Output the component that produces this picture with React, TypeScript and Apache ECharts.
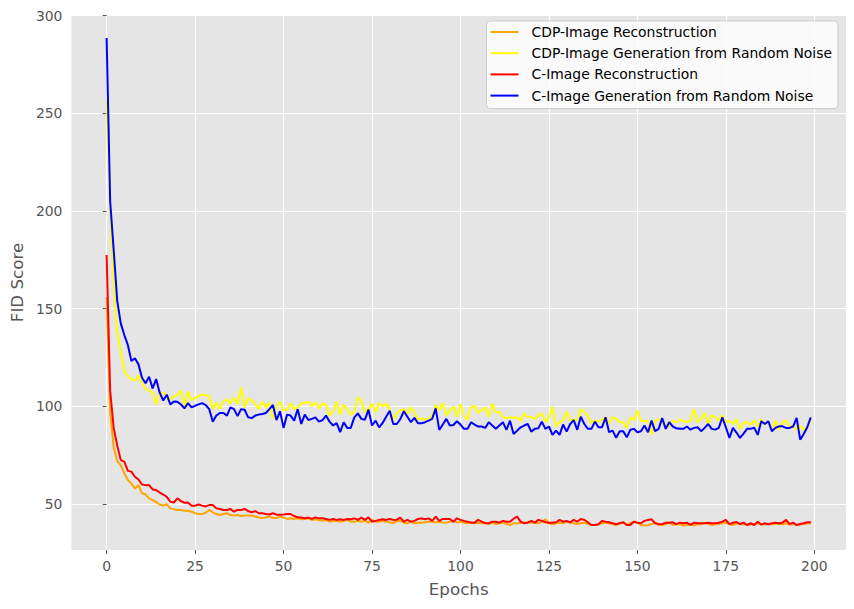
import React, { useEffect, useRef } from "react";
import * as echarts from "echarts";

const seriesNames = [
  "CDP-Image Reconstruction",
  "CDP-Image Generation from Random Noise",
  "C-Image Reconstruction",
  "C-Image Generation from Random Noise",
];
const seriesColors = ["#FFA500", "#FFFF00", "#FF0000", "#0000FF"];

const xTicks = [0, 25, 50, 75, 100, 125, 150, 175, 200];
const yTicks = [50, 100, 150, 200, 250, 300];

// CDP-Image Reconstruction (orange)
const cdpRecon = [
  156, 97, 79, 72, 70, 65.7, 62.3, 60.6, 58, 59.7,
  55.5, 55, 52.9, 52, 51, 49.8, 49.2, 50, 47.8, 47.3,
  47, 47, 46.6, 46.6, 46.1, 45.3, 44.9, 44.9, 45.6, 47,
  45.8, 44.9, 44.4, 44.9, 45.3, 44.4, 44.1, 44.4, 43.9, 44.2,
  44.1, 44.1, 43.6, 43.1, 42.9, 43.2, 43.6, 42.9, 42.9, 43.6,
  43.1, 42.4, 42.7, 42.4, 42.7, 42.2, 42.4, 42.7, 41.9, 42.2,
  41.9, 41.5, 41.9, 41, 41.5, 41.4, 41, 41.4, 41.9, 41,
  41, 41.4, 41, 41.4, 40.5, 41.9, 41, 41, 41.4, 41,
  40.7, 40.2, 41.2, 41.5, 40.5, 40.2, 41, 40.2, 40.5, 40.5,
  40.7, 41, 41, 40.7, 41, 40.5, 40.5, 41, 41.4, 40.5,
  41, 40.5, 40.2, 40.5, 40.2, 40.5, 40.2, 40.5, 39.7, 40.5,
  39.8, 40.2, 40.5, 39.8, 39.3, 40.2, 40.2, 40.5, 40.5, 40.7,
  40.5, 40.5, 40.2, 41, 42.2, 40.2, 39.7, 40.2, 40.5, 40.2,
  41, 40.5, 40.2, 39.8, 40.2, 40.5, 39.8, 39.3, 39.3, 39.7,
  40.2, 40.5, 40.2, 39.7, 39.3, 40.2, 40.5, 39.3, 40.2, 41,
  40.5, 39.3, 39, 39.3, 39.7, 40.5, 39.3, 39.3, 39.7, 40.7,
  39.3, 39.7, 39.8, 39, 39.3, 39.8, 39, 39.8, 39.7, 40.2,
  40.2, 39.3, 39.7, 39.8, 40.2, 40.5, 39.7, 39.3, 40.2, 39.7,
  39.8, 39.3, 39.7, 39.7, 40.2, 39.5, 39.8, 39.5, 39.7, 40,
  39.8, 39.7, 40.2, 39.5, 39.8, 39.3, 39.5, 39.8, 40, 40.2,
];

// CDP-Image Generation from Random Noise (yellow)
const cdpGen = [
  257, 200, 165, 138, 128, 118, 115.5, 114, 113, 116,
  111.8, 109, 108, 107, 101, 107, 106.8, 105.4, 103.7, 105,
  106, 108, 100.3, 107.5, 103.2, 104.2, 105.4, 106, 105.8, 105,
  98.6, 102, 98.6, 102.4, 103.7, 101.2, 104.6, 101.2, 109.7, 99.5,
  104.2, 102.9, 101.2, 98.6, 102.4, 99.5, 102, 93.6, 100, 102.5,
  97.8, 98.6, 101.5, 98.6, 99.5, 101.5, 101.7, 102.4, 100, 102,
  99, 101.5, 100.8, 95.3, 97.5, 102.5, 95.8, 100.8, 98.6, 95.8,
  96.9, 104.6, 102.9, 96.9, 98.6, 101.5, 96.9, 101.7, 100, 101.5,
  98.6, 93, 96.6, 97.9, 98.6, 96.1, 99.5, 96.9, 93.2, 93.9,
  93.2, 93.6, 95.3, 100.7, 98.1, 101.7, 95.3, 97.8, 100, 94.7,
  101.2, 95.3, 93.2, 99.5, 100.3, 96.6, 98.1, 99.5, 94.7, 101.5,
  96.9, 97.3, 94.4, 94.1, 94.4, 94.1, 94.4, 92.5, 96.4, 94.4,
  94.7, 93.6, 95.3, 96.4, 91.9, 94.4, 99.8, 89.7, 91.9, 92.7,
  97.3, 92.7, 93.2, 93, 98.6, 96.9, 95.3, 91.4, 92.7, 92.2,
  93.2, 94.4, 91.4, 94.4, 93.6, 91.9, 91.9, 89, 94.4, 93,
  97.8, 92.7, 92.4, 92.7, 85.6, 92.7, 93.6, 91.9, 91, 89.7,
  92.7, 91.9, 93.2, 92.4, 91.9, 92.7, 98.6, 91.9, 93.6, 96.6,
  91, 95.3, 94.7, 92.7, 95.3, 91.9, 92.7, 91, 93.5, 88.5,
  91.4, 92, 90.5, 93, 89.5, 93.2, 91, 91.9, 87.6, 92.7,
  88, 91.9, 92.7, 89, 90.2, 88, 90.2, 88, 89.3, 93,
];

// C-Image Reconstruction (red)
const cRecon = [
  177.5, 108, 89, 80, 72.5, 71.7, 67, 66.6, 64, 62.6,
  60, 59.7, 59.7, 57.5, 57.2, 55.9, 54.9, 53.7, 51.2, 50.8,
  52.9, 51.5, 50.7, 50.8, 49.2, 49.2, 49.8, 49.2, 48.8, 49.5,
  49.5, 47.8, 47.5, 47, 47, 47.5, 46.1, 47, 47, 47.5,
  46.4, 45.8, 46.4, 45.3, 45.3, 44.9, 44.7, 45.3, 44.6, 44.6,
  44.7, 44.9, 44.9, 43.9, 43.2, 43.1, 42.7, 43.1, 42.4, 43.2,
  42.7, 42.7, 42.4, 41.9, 42.4, 41.9, 42.2, 41.9, 42.4, 42.2,
  42.7, 41.9, 43.1, 41.9, 43.2, 41, 41.4, 41.9, 42.2, 41.9,
  42.4, 41.9, 42, 43.1, 41, 41.9, 41, 41.4, 42.4, 42.7,
  42.2, 42.7, 41.4, 43.6, 41.4, 42.4, 42.4, 42.4, 41, 42.7,
  41.9, 41.4, 41, 40.5, 40.5, 41.9, 41, 40.2, 40.2, 41,
  41, 40.5, 41.4, 41, 41, 42.5, 43.6, 41, 40.2, 40.5,
  41.4, 40.5, 41.9, 41.4, 40.7, 40.5, 40.5, 40.7, 41.9, 41,
  41.4, 40.7, 41.9, 41, 42.4, 41.9, 40.7, 39.3, 39.3, 39.7,
  41.4, 41, 40.7, 40.2, 39.7, 40.2, 40.7, 39.3, 39.3, 41,
  40.5, 40.2, 41.4, 41.9, 42.2, 40.2, 39.8, 39.7, 40.5, 40.5,
  40.7, 39.7, 40.5, 40.2, 40.5, 39.3, 40.5, 40.2, 40.2, 40.2,
  40.5, 40.2, 40.2, 40.5, 41, 41.9, 39.7, 40.5, 40.8, 39.8,
  40.5, 39.3, 40.2, 39.3, 41, 39.5, 40.2, 39.7, 40.2, 40.5,
  40.2, 40.5, 41.9, 39.8, 40.5, 39.3, 39.8, 40.2, 40.7, 40.7,
];

// C-Image Generation from Random Noise (blue)
const cGen = [
  288.5, 205, 180, 154, 142.5, 136.5, 131.4, 123.2, 124.6, 121.5,
  114.7, 111.8, 115.2, 109.2, 114, 107, 103, 106, 101, 102.5,
  102.4, 101, 99, 101.7, 99.5, 100.3, 101, 101.7, 100.7, 98.6,
  92.2, 95.3, 96.6, 96.6, 95.3, 99.5, 98.6, 95, 98.6, 98.3,
  94.4, 94, 95.3, 95.8, 96.1, 96.6, 98.6, 100.7, 93, 97.5,
  89, 95.8, 95.3, 92.7, 98.6, 91, 95.8, 93, 93.6, 94.4,
  92.2, 93, 95.3, 92.2, 90.2, 91.4, 86.8, 91.9, 89, 89,
  94.4, 96.4, 93.6, 93.2, 98.3, 90.2, 92.7, 89.3, 91.5, 94.7,
  97.8, 91, 91, 93.5, 97.5, 94.7, 91.9, 94.1, 91.4, 91.4,
  91.9, 92.7, 93.6, 99, 88, 90.7, 93.6, 90.2, 90.5, 92.4,
  90.7, 88.5, 88.5, 91.9, 90.7, 89.7, 89.7, 89, 91.9, 90.2,
  88.5, 90.2, 91.9, 88, 92.7, 85.9, 87.5, 89.3, 90.2, 91,
  87.1, 88.5, 88.8, 92.2, 88.5, 89.7, 85.4, 87.6, 85.4, 90.7,
  87.1, 91, 93, 88, 94.7, 91, 88.5, 88.5, 92.2, 89.3,
  89.3, 94.4, 86.8, 87.6, 83.9, 87.3, 87.3, 84.2, 88, 88.5,
  86.8, 87.3, 90.2, 86.8, 92.7, 87.3, 88.5, 94, 88.5, 91.9,
  89.7, 88.8, 88.5, 88.5, 89.7, 88.1, 89, 89.3, 87.3, 89,
  91, 88.5, 88.1, 89, 94.4, 89.3, 83.9, 89, 86.6, 83.9,
  86.1, 88.5, 88.5, 89.1, 85.4, 92.4, 91, 92.4, 87.3, 89,
  89.8, 89.8, 89, 89, 89.7, 94.1, 83, 85.9, 89.3, 94.4,
];

const allSeries = [cdpRecon, cdpGen, cRecon, cGen];

export default function App() {
  const ref = useRef<HTMLDivElement>(null);
  useEffect(() => {
    if (!ref.current) return;
    const chart = echarts.init(ref.current, undefined, { renderer: "svg" });
    const font = "DejaVu Sans";
    const tickColor = "#555555";
    chart.setOption({
      animation: false,
      backgroundColor: "#ffffff",
      textStyle: { fontFamily: font },
      grid: {
        left: 71,
        top: 15,
        width: 775,
        height: 535,
        show: true,
        backgroundColor: "#E5E5E5",
        borderWidth: 0,
        containLabel: false,
      },
      legend: {
        orient: "vertical",
        right: 16,
        top: 21,
        data: seriesNames,
        backgroundColor: "rgba(255,255,255,0.8)",
        borderColor: "#cccccc",
        borderWidth: 1,
        borderRadius: 4,
        padding: [4, 6, 6, 3],
        itemWidth: 28,
        itemHeight: 14,
        itemGap: 7.2,
        itemStyle: { opacity: 0 },
        lineStyle: { width: 2 },
        textStyle: { fontFamily: font, fontSize: 13.9, color: "#000000", padding: [0, 0, 0, 8] },
      },
      xAxis: {
        type: "value",
        min: -9.95,
        max: 208.95,
        name: "Epochs",
        nameLocation: "middle",
        nameGap: 30,
        nameTextStyle: { fontFamily: font, fontSize: 16.7, color: tickColor },
        axisLine: { show: false },
        axisTick: {
          show: true,
          length: 4,
          lineStyle: { color: tickColor, width: 1 },
          customValues: xTicks,
        },
        axisLabel: {
          show: true,
          margin: 9,
          fontFamily: font,
          fontSize: 13.9,
          color: tickColor,
          customValues: xTicks,
          showMinLabel: true,
          showMaxLabel: true,
        },
        splitLine: { show: true, lineStyle: { color: "#ffffff", width: 1.2 } },
      },
      yAxis: {
        type: "value",
        min: 26.5,
        max: 300.3,
        name: "FID Score",
        nameLocation: "middle",
        nameGap: 45,
        nameTextStyle: { fontFamily: font, fontSize: 16.7, color: tickColor },
        axisLine: { show: false },
        axisTick: {
          show: true,
          length: 4,
          lineStyle: { color: tickColor, width: 1 },
          customValues: yTicks,
        },
        axisLabel: {
          show: true,
          margin: 9,
          fontFamily: font,
          fontSize: 13.9,
          color: tickColor,
          customValues: yTicks,
        },
        splitLine: { show: true, lineStyle: { color: "#ffffff", width: 1.2 } },
      },
      series: allSeries.map((vals, k) => ({
        name: seriesNames[k],
        type: "line",
        data: vals.map((v, i) => [i, v]),
        showSymbol: false,
        symbol: "none",
        color: seriesColors[k],
        lineStyle: { color: seriesColors[k], width: 2 },
        z: 2 + k,
      })),
    });
    return () => chart.dispose();
  }, []);
  return (
    <div
      ref={ref}
      style={{ position: "absolute", left: 0, top: 0, width: 854, height: 609 }}
    />
  );
}
